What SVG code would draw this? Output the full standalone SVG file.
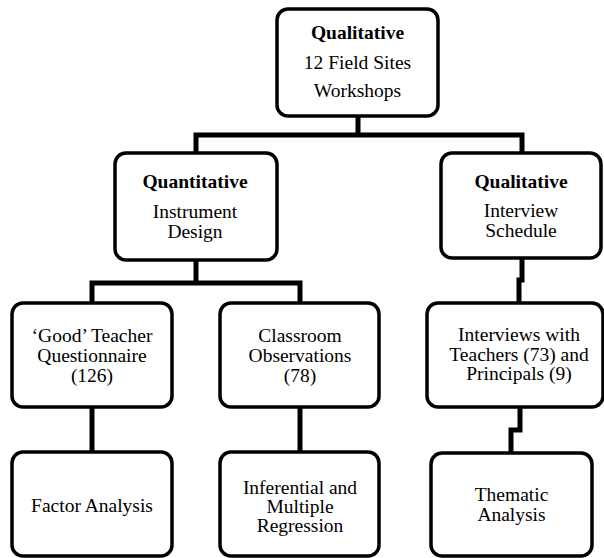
<svg xmlns="http://www.w3.org/2000/svg" width="604" height="558" viewBox="0 0 604 558">
<style>
.box{fill:#fff;stroke:#000;stroke-width:3.5}
.con{fill:none;stroke:#000;stroke-width:5;stroke-linejoin:miter}
text{font-family:'Liberation Serif','Tinos','DejaVu Serif','Noto Serif',serif;font-size:19.5px;fill:#000;text-anchor:middle}
.b{font-weight:bold}
</style>
<rect width="604" height="558" fill="#fff"/>
<g id="connectors">
<path class="con" d="M358 116V135M196 153V135H522V153"/>
<path class="con" d="M196 260V283M92 303V283H300V303"/>
<path class="con" d="M522 258V280H519V303"/>
<path class="con" d="M92 407V452"/>
<path class="con" d="M300 407V452"/>
<path class="con" d="M520 407V430H511V453"/>
</g>
<g id="n-top">
<rect class="box" x="277" y="9" width="161" height="107" rx="11"/>
<text class="b" x="357.5" y="39">Qualitative</text>
<text x="357.5" y="69">12 Field Sites</text>
<text x="357.5" y="97">Workshops</text>
</g>
<g id="n-quant">
<rect class="box" x="115" y="153" width="162" height="107" rx="11"/>
<text class="b" x="195" y="188">Quantitative</text>
<text x="195" y="218">Instrument</text>
<text x="195" y="238">Design</text>
</g>
<g id="n-qual">
<rect class="box" x="441" y="153" width="160" height="105" rx="11"/>
<text class="b" x="521" y="188">Qualitative</text>
<text x="521" y="217">Interview</text>
<text x="521" y="237">Schedule</text>
</g>
<g id="n-good">
<rect class="box" x="12" y="303" width="160" height="104" rx="11"/>
<text x="92" y="342">‘Good’ Teacher</text>
<text x="92" y="362">Questionnaire</text>
<text x="92" y="382">(126)</text>
</g>
<g id="n-class">
<rect class="box" x="220" y="303" width="159" height="104" rx="11"/>
<text x="300" y="342">Classroom</text>
<text x="300" y="362">Observations</text>
<text x="300" y="382">(78)</text>
</g>
<g id="n-interviews">
<rect class="box" x="427" y="303" width="176" height="104" rx="11"/>
<text x="519" y="341">Interviews with</text>
<text x="519" y="361">Teachers (73) and</text>
<text x="519" y="380">Principals (9)</text>
</g>
<g id="n-factor">
<rect class="box" x="12" y="452" width="160" height="104" rx="11"/>
<text x="92" y="512">Factor Analysis</text>
</g>
<g id="n-infer">
<rect class="box" x="220" y="452" width="159" height="104" rx="11"/>
<text x="300" y="494">Inferential and</text>
<text x="300" y="513">Multiple</text>
<text x="300" y="532">Regression</text>
</g>
<g id="n-thematic">
<rect class="box" x="431" y="453" width="161" height="103" rx="11"/>
<text x="511.5" y="501">Thematic</text>
<text x="511.5" y="521">Analysis</text>
</g>
</svg>
